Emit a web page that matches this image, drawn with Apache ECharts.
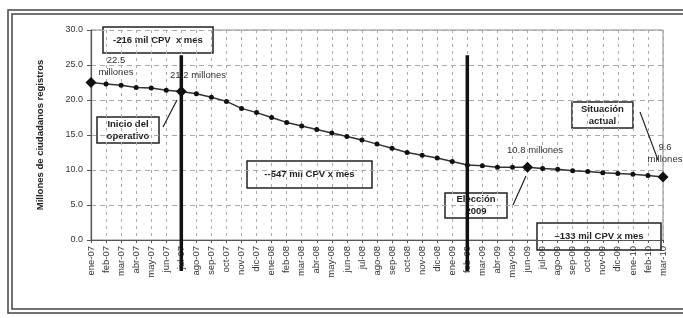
<!DOCTYPE html>
<html>
<head>
<meta charset="utf-8">
<script src="https://cdn.jsdelivr.net/npm/echarts@6/dist/echarts.min.js"></script>
<style>
  html, body { margin: 0; padding: 0; background: #fff; }
  #chart { width: 683px; height: 318px; }
</style>
</head>
<body>
<div id="chart"></div>
<script>
// meses del eje x
const months = [
  'ene-07','feb-07','mar-07','abr-07','may-07','jun-07','jul-07','ago-07','sep-07','oct-07','nov-07','dic-07',
  'ene-08','feb-08','mar-08','abr-08','may-08','jun-08','jul-08','ago-08','sep-08','oct-08','nov-08','dic-08',
  'ene-09','feb-09','mar-09','abr-09','may-09','jun-09','jul-09','ago-09','sep-09','oct-09','nov-09','dic-09',
  'ene-10','feb-10','mar-10'
];
// millones de ciudadanos registrados
const registros = [
  22.5, 22.3, 22.1, 21.8, 21.7, 21.4, 21.2, 20.9, 20.4, 19.8, 18.8, 18.2,
  17.5, 16.8, 16.3, 15.8, 15.3, 14.8, 14.3, 13.7, 13.1, 12.5, 12.1, 11.7,
  11.2, 10.7, 10.6, 10.4, 10.4, 10.4, 10.2, 10.1, 9.9, 9.8, 9.6, 9.5,
  9.4, 9.2, 9.0
];
// puntos destacados
const destacados = ['ene-07', 'jul-07', 'jun-09', 'mar-10'];
// lineas verticales (inicio del operativo, eleccion)
const eventos = ['jul-07', 'feb-09'];
const yTicks = [0, 5, 10, 15, 20, 25, 30];

const font = 'Liberation Sans, Arial, sans-serif';

const lineData = registros.map((v, i) => destacados.includes(months[i])
  ? { value: v, symbol: 'diamond', symbolSize: 11 }
  : v);

function box(x, y, w, h, text) {
  return {
    type: 'group', x: x, y: y, z: 100,
    children: [
      { type: 'rect', shape: { x: 0, y: 0, width: w, height: h },
        style: { fill: '#fff', stroke: '#222', lineWidth: 1.5 } },
      { type: 'text', x: w / 2, y: h / 2,
        style: { text: text, font: 'bold 9.5px ' + font, fill: '#222',
                 align: 'center', verticalAlign: 'middle', lineHeight: 12 } }
    ]
  };
}
function label(x, y, text) {
  return { type: 'text', x: x, y: y, z: 100,
    style: { text: text, font: '9.5px ' + font, fill: '#333',
             align: 'center', verticalAlign: 'middle', lineHeight: 12 } };
}
function pointer(x1, y1, x2, y2) {
  return { type: 'line', z: 100, shape: { x1, y1, x2, y2 },
    style: { stroke: '#222', lineWidth: 1.2 } };
}

const chart = echarts.init(document.getElementById('chart'), null, { renderer: 'canvas' });
chart.setOption({
  backgroundColor: '#fff',
  animation: false,
  grid: { left: 91, right: 20, top: 30, bottom: 78, show: true, borderColor: '#888', borderWidth: 1 },
  xAxis: {
    type: 'category', data: months, boundaryGap: false,
    axisLine: { lineStyle: { color: '#555', width: 1.2 } },
    axisTick: { show: true, length: 3, lineStyle: { color: '#555' } },
    axisLabel: { rotate: 90, fontSize: 9.5, color: '#333', fontFamily: font, margin: 6, interval: 0 },
    splitLine: { show: true, lineStyle: { color: '#aaa', type: [3, 4], width: 1 } }
  },
  yAxis: {
    type: 'value', min: yTicks[0], max: yTicks[yTicks.length - 1], interval: 5,
    name: 'Millones de ciudadanos registros', nameLocation: 'middle', nameRotate: 90, nameGap: 46,
    nameTextStyle: { fontSize: 9.5, fontWeight: 'bold', color: '#222', fontFamily: font },
    axisLine: { show: true, lineStyle: { color: '#555', width: 1.2 } },
    axisTick: { show: true, length: 4, lineStyle: { color: '#555' } },
    axisLabel: { fontSize: 9, color: '#333', fontFamily: font, formatter: v => v.toFixed(1) },
    splitLine: { show: true, lineStyle: { color: '#aaa', type: [5, 4], width: 1 } }
  },
  series: [
    {
      type: 'line', data: lineData, z: 5,
      symbol: 'circle', symbolSize: 5,
      lineStyle: { color: '#333', width: 1.5 },
      itemStyle: { color: '#111' }
    },
    {
      type: 'custom', z: 6, clip: false,
      data: eventos.map(m => [months.indexOf(m), 26.4]),
      renderItem: (params, api) => {
        const top = api.coord([api.value(0), api.value(1)]);
        const bottom = api.coord([api.value(0), 0]);
        return {
          type: 'line',
          shape: { x1: top[0], y1: top[1], x2: top[0], y2: bottom[1] + 31 },
          style: { stroke: '#111', lineWidth: 3.5 }
        };
      }
    }
  ],
  graphic: [
    // marco doble
    { type: 'rect', shape: { x: 8, y: 10, width: 690, height: 303 }, style: { fill: 'none', stroke: '#444', lineWidth: 1.5 }, z: 0 },
    { type: 'rect', shape: { x: 12, y: 14, width: 690, height: 295 }, style: { fill: 'none', stroke: '#444', lineWidth: 1.5 }, z: 0 },
    box(103, 27, 110, 26, '-216 mil CPV  x mes'),
    box(97, 117, 62, 26, 'Inicio del\noperativo'),
    box(247, 161, 125, 27, '--547 mil CPV x mes'),
    box(445, 193, 62, 25, 'Elección\n2009'),
    box(537, 223, 124, 27, '\u2013133 mil CPV x mes'),
    box(572, 102, 61, 26, 'Situación\nactual'),
    label(116, 66, '22.5\nmillones'),
    label(198, 75, '21.2 millones'),
    label(535, 150, '10.8 millones'),
    label(665, 153, '9.6\nmillones'),
    pointer(163, 127, 177, 100),
    pointer(513, 205, 526, 176),
    pointer(640, 112, 658, 160)
  ]
});
</script>
</body>
</html>
